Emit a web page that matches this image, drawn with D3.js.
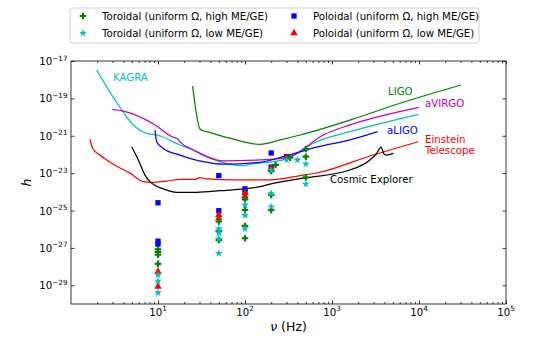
<!DOCTYPE html>
<html><head><meta charset="utf-8">
<script src="https://cdn.jsdelivr.net/npm/d3@7"></script>
<style>body{margin:0;background:#fff}svg{font-family:"DejaVu Sans",sans-serif}</style>
</head><body><svg id="c" width="550" height="350"></svg>
<script>
// ---------- data ----------
const xMajor = [10, 100, 1000, 10000, 100000];
const xMajorExp = ["1", "2", "3", "4", "5"];
const yMajor = [1e-17, 1e-19, 1e-21, 1e-23, 1e-25, 1e-27, 1e-29];
const yMajorExp = ["\u221217", "\u221219", "\u221221", "\u221223", "\u221225", "\u221227", "\u221229"];

const kagraF = [1.97, 3.83, 5.2, 7.4, 9.7, 17.9, 27.8, 51.6, 87.6, 130, 275, 667, 1610, 9820];
const kagraH = [3.3e-18, 2.4e-20, 3.8e-21, 1.35e-21, 1.1e-21, 3.2e-22, 1.4e-22, 4.1e-23, 2.5e-23, 3.2e-23, 5.1e-23, 4.8e-22, 1.66e-21, 1.41e-20];

const virgoF = [2.98, 4.0, 7.4, 9.24, 15, 16.6, 17.9, 25.5, 36.3, 56, 149, 275, 330, 794, 1610, 10000];
const virgoH = [2.6e-20, 2.1e-20, 6.9e-21, 3.8e-21, 8.3e-22, 7.2e-22, 4.7e-22, 1.74e-22, 7.6e-23, 4.5e-23, 5.1e-23, 6.3e-23, 7.6e-23, 1.1e-21, 3.8e-21, 3.3e-20];

const aligoF = [9.24, 9.66, 11.5, 17.9, 33.2, 56, 149, 275, 667, 1610, 3350];
const aligoH = [2.0e-21, 4.8e-22, 2.1e-22, 9.3e-23, 4.1e-23, 3.0e-23, 3.8e-23, 7.6e-23, 2.5e-22, 6.0e-22, 1.66e-21];

const ligoF = [25, 30.4, 33.2, 36.3, 67, 114, 149, 253, 429, 1610, 6050, 30400];
const ligoH = [4.6e-19, 2.3e-21, 1.86e-21, 1.66e-21, 7.4e-22, 4.0e-22, 3.5e-22, 6.0e-22, 1.1e-21, 6.9e-21, 5.5e-20, 5.2e-19];

const etF = [1.65, 1.78, 2.15, 3.06, 4.77, 6.78, 8.47, 12.6, 17.9, 26.6, 30.4, 36.3, 80, 194, 468, 667, 2730, 9820];
const etH = [6.5e-22, 2.1e-22, 9.3e-23, 3.0e-23, 1.0e-23, 3.5e-24, 3.2e-24, 3.8e-24, 4.7e-24, 4.7e-24, 5.8e-24, 4.9e-24, 4.4e-24, 4.4e-24, 7.9e-24, 1.02e-23, 8.3e-23, 4.8e-22];

const ceF = [4.99, 5.94, 7.09, 8.09, 11.5, 16.4, 27.9, 51.6, 149, 194, 468, 1610, 2730, 3265, 3660, 3960, 4255, 5070];
const ceH = [2.5e-22, 5.1e-23, 7.9e-24, 3.5e-24, 1.45e-24, 9.5e-25, 9.5e-25, 1.15e-24, 1.9e-24, 2.6e-24, 5.4e-24, 1.48e-23, 5.1e-23, 1.15e-22, 2.5e-22, 1.07e-22, 9.3e-23, 1.15e-22];

// scattered estimates
const torHighF = [10, 10, 10, 10, 50, 50, 50, 100, 100, 100, 100, 200, 200, 200, 225, 330, 500, 500, 500];
const torHighH = [8.5e-28, 6.2e-28, 4.3e-28, 1.4e-28, 2.6e-26, 8.1e-27, 2.7e-27, 4.0e-25, 1.07e-25, 1.5e-26, 3.3e-27, 1.3e-23, 6.8e-25, 1.07e-25, 2.75e-23, 6.8e-23, 1.95e-22, 7.6e-23, 6.0e-24];

const torLowF = [10, 10, 10, 50, 50, 50, 50, 100, 100, 100, 200, 200, 200, 300, 400, 500, 500];
const torLowH = [3.6e-29, 1.7e-29, 4.1e-30, 1.05e-26, 6.3e-27, 3.0e-27, 5.2e-28, 2.0e-25, 5.5e-26, 1.05e-26, 1.4e-23, 8.1e-25, 1.6e-25, 5.1e-23, 5.1e-23, 3.1e-23, 2.6e-24];

const polHighF = [10, 10, 10, 50, 50, 100, 100, 200, 200, 300];
const polHighH = [2.6e-25, 2.3e-27, 1.6e-27, 7.4e-24, 9.8e-26, 1.45e-24, 1.0e-24, 1.2e-22, 2.1e-23, 7.6e-23];

const polLowF = [10, 10, 50, 50, 100, 100, 200, 300];
const polLowH = [5.4e-29, 8.5e-30, 5.8e-26, 3.9e-26, 8.7e-25, 6.0e-25, 1.8e-23, 6.8e-23];

const curveNames = ["KAGRA", "aVIRGO", "aLIGO", "LIGO", "Einstein Telescope", "Cosmic Explorer"];
const legendLabels = ["Toroidal (uniform \u03A9, high ME/GE)", "Toroidal (uniform \u03A9, low ME/GE)",
                      "Poloidal (uniform \u03A9, high ME/GE)", "Poloidal (uniform \u03A9, low ME/GE)"];

// ---------- drawing ----------
const svg = d3.select("#c");
const x = d3.scaleLog().domain([1, 1e5]).range([71, 506]);
const y = d3.scaleLog().domain([1e-30, 1e-17]).range([304, 61]);
const X0 = 71, X1 = 506, Y0 = 304, Y1 = 61;

const curves = [
  {f: kagraF, h: kagraH, c: "#00bfbf"},
  {f: virgoF, h: virgoH, c: "#bf00bf"},
  {f: aligoF, h: aligoH, c: "#0000ff"},
  {f: ligoF, h: ligoH, c: "#008000"},
  {f: etF, h: etH, c: "#ff0000"},
  {f: ceF, h: ceH, c: "#000000"}
];
const line = d3.line().x(d => x(d[0])).y(d => y(d[1])).curve(d3.curveMonotoneX);
const gC = svg.append("g");
curves.forEach(cv => {
  gC.append("path").datum(cv.f.map((f, i) => [f, cv.h[i]]))
    .attr("d", line).attr("fill", "none").attr("stroke", cv.c).attr("stroke-width", 1.25);
});

const series = [
  {f: torHighF, h: torHighH, c: "#008000", t: d3.symbolCross, s: 24},
  {f: torLowF, h: torLowH, c: "#00bfbf", t: d3.symbolStar, s: 20},
  {f: polHighF, h: polHighH, c: "#0000ff", t: d3.symbolSquare, s: 28},
  {f: polLowF, h: polLowH, c: "#ff0000", t: d3.symbolTriangle, s: 24}
];
const drawOrder = [2, 3, 0, 1];
drawOrder.forEach(k => {
  const s = series[k];
  svg.append("g").selectAll("path").data(s.f.map((f, i) => [f, s.h[i]])).join("path")
    .attr("transform", d => `translate(${x(d[0])},${y(d[1])})`)
    .attr("d", d3.symbol().type(s.t).size(s.s)).attr("fill", s.c);
});

// axes
const xMinor = [];
for (let e = 0; e < 5; e++) for (let m = 2; m <= 9; m++) xMinor.push(m * Math.pow(10, e));
const axColor = "#222";
function styleAx(g) { g.select(".domain").remove(); g.selectAll("line").attr("stroke", axColor).attr("stroke-width", 0.9); }
svg.append("g").attr("transform", `translate(0,${Y0})`).call(d3.axisBottom(x).tickValues(xMajor).tickSize(-3.5).tickFormat("")).call(styleAx);
svg.append("g").attr("transform", `translate(0,${Y0})`).call(d3.axisBottom(x).tickValues(xMinor).tickSize(-2).tickFormat("")).call(styleAx);
svg.append("g").attr("transform", `translate(0,${Y1})`).call(d3.axisTop(x).tickValues(xMajor).tickSize(-3.5).tickFormat("")).call(styleAx);
svg.append("g").attr("transform", `translate(0,${Y1})`).call(d3.axisTop(x).tickValues(xMinor).tickSize(-2).tickFormat("")).call(styleAx);
svg.append("g").attr("transform", `translate(${X0},0)`).call(d3.axisLeft(y).tickValues(yMajor).tickSize(-3.5).tickFormat("")).call(styleAx);
svg.append("g").attr("transform", `translate(${X1},0)`).call(d3.axisRight(y).tickValues(yMajor).tickSize(-3.5).tickFormat("")).call(styleAx);
svg.append("rect").attr("x", X0).attr("y", Y1).attr("width", X1 - X0).attr("height", Y0 - Y1)
  .attr("fill", "none").attr("stroke", axColor).attr("stroke-width", 0.9);

// tick labels
xMajor.forEach((v, i) => {
  const t = svg.append("text").attr("x", x(v)).attr("y", 315.5).attr("text-anchor", "middle")
    .attr("font-size", 10.2).attr("fill", "#000");
  t.append("tspan").text("10");
  t.append("tspan").attr("dy", -4.5).attr("font-size", 7.2).text(xMajorExp[i]);
});
yMajor.forEach((v, i) => {
  const t = svg.append("text").attr("x", 67.5).attr("y", y(v) + 4).attr("text-anchor", "end")
    .attr("font-size", 10.2).attr("fill", "#000");
  t.append("tspan").text("10");
  t.append("tspan").attr("dy", -4.5).attr("font-size", 7.2).text(yMajorExp[i]);
});

// axis titles
const xt = svg.append("text").attr("x", (X0 + X1) / 2).attr("y", 331).attr("text-anchor", "middle").attr("font-size", 12.5);
xt.append("tspan").attr("font-style", "italic").text("\u03BD");
xt.append("tspan").text(" (Hz)");
svg.append("text").attr("transform", `translate(31,${(Y0 + Y1) / 2}) rotate(-90)`).attr("text-anchor", "middle")
  .attr("font-size", 12.5).attr("font-style", "italic").text("h");

// curve labels
const labelPos = [[113, 80.5, "#00bfbf"], [425, 107, "#bf00bf"], [387, 133.5, "#0000ff"], [388, 94.5, "#008000"], [425, 142.5, "#ff0000"], [330, 182.5, "#000000"]];
curveNames.forEach((n, i) => {
  const p = labelPos[i];
  const t = svg.append("text").attr("x", p[0]).attr("y", p[1]).attr("font-size", 10.2).attr("fill", p[2]);
  if (n === "Einstein Telescope") {
    t.append("tspan").attr("x", p[0]).text("Einstein");
    t.append("tspan").attr("x", p[0]).attr("dy", 11.5).text("Telescope");
  } else t.text(n);
});

// legend
svg.append("rect").attr("x", 70).attr("y", 8).attr("width", 409).attr("height", 35).attr("rx", 2.5)
  .attr("fill", "#fff").attr("fill-opacity", 0.8).attr("stroke", "#cccccc").attr("stroke-width", 0.9);
const legPos = [[83, 16], [83, 33], [294, 16], [294, 33]];
series.forEach((s, i) => {
  const [lx, ly] = legPos[i];
  svg.append("path").attr("transform", `translate(${lx},${ly})`).attr("d", d3.symbol().type(s.t).size(s.s)).attr("fill", s.c);
  svg.append("text").attr("x", lx + 19).attr("y", ly + 3.6).attr("font-size", 10.2).attr("fill", "#000").text(legendLabels[i]);
});
</script></body></html>
